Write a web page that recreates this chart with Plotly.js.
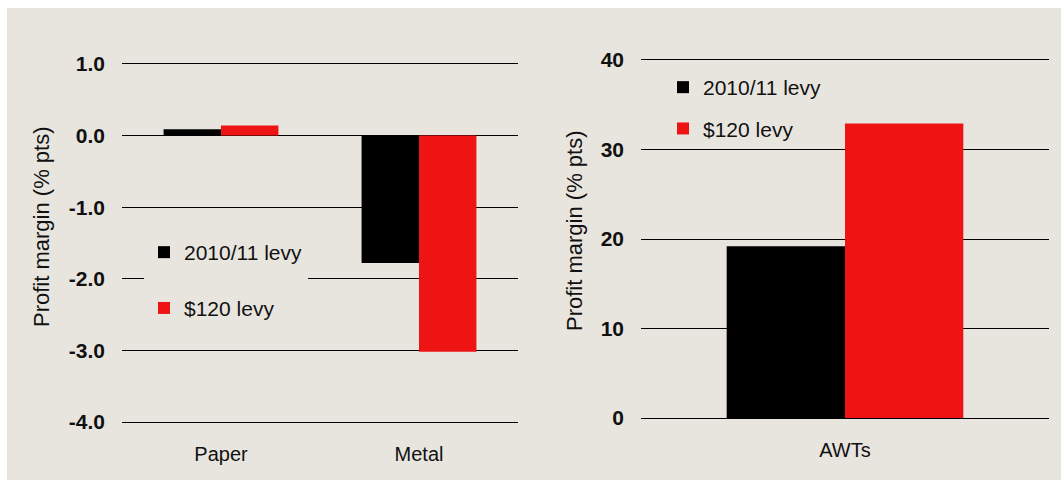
<!DOCTYPE html>
<html>
<head>
<meta charset="utf-8">
<script src="https://cdn.plot.ly/plotly-3.0.1.min.js"></script>
<style>html,body{margin:0;padding:0;background:#fff;}#chart{width:1061px;height:480px;}</style>
</head>
<body>
<div id="chart"></div>
<script>
// Data
const leftCategories = ["Paper", "Metal"];
const leftLevy2010 = [0.09, -1.78];
const leftLevy120 = [0.14, -3.02];
const rightCategories = ["AWTs"];
const rightLevy2010 = [19.2];
const rightLevy120 = [32.9];
const seriesNames = ["2010/11 levy", "$120 levy"];
const leftTicks = [1, 0, -1, -2, -3, -4];
const leftTickText = ["1.0", "0.0", "-1.0", "-2.0", "-3.0", "-4.0"];
const rightTicks = [0, 10, 20, 30, 40];
const yTitle = "Profit margin (% pts)";

const BG = "#E8E5DF";
const BLACK = "#000000";
const RED = "#EE1414";
const FONT = "Liberation Sans, Arial, sans-serif";

const traces = [
  {type: "bar", x: leftCategories, y: leftLevy2010, name: seriesNames[0], xaxis: "x", yaxis: "y",
   marker: {color: BLACK}, legend: "legend", legendgroup: "a"},
  {type: "bar", x: leftCategories, y: leftLevy120, name: seriesNames[1], xaxis: "x", yaxis: "y",
   marker: {color: RED}, legend: "legend", legendgroup: "b"},
  {type: "bar", x: rightCategories, y: rightLevy2010, name: seriesNames[0], xaxis: "x2", yaxis: "y2",
   marker: {color: BLACK}, legend: "legend2", legendgroup: "c"},
  {type: "bar", x: rightCategories, y: rightLevy120, name: seriesNames[1], xaxis: "x2", yaxis: "y2",
   marker: {color: RED}, legend: "legend2", legendgroup: "d"}
];

const yCommon = {
  showgrid: true, gridcolor: "#000000", gridwidth: 1,
  zeroline: false, showline: false, ticks: "",
  ticklabelstandoff: 16,
  tickfont: {family: FONT, size: 21, color: "#111", weight: "bold"}
};
const xCommon = {
  showgrid: false, zeroline: false, showline: false, ticks: "",
  ticklabelstandoff: 14,
  tickfont: {family: FONT, size: 20, color: "#111"}
};

const layout = {
  width: 1061, height: 480,
  margin: {l: 0, r: 0, t: 0, b: 0},
  paper_bgcolor: "#FFFFFF",
  plot_bgcolor: "rgba(0,0,0,0)",
  barmode: "group", bargap: 0.42, bargroupgap: 0,
  font: {family: FONT, color: "#111"},
  xaxis: Object.assign({}, xCommon, {domain: [122/1061, 518/1061], anchor: "y"}),
  yaxis: Object.assign({}, yCommon, {domain: [1 - 425.6/480, 1 - 60.4/480], anchor: "x",
    range: [-4.05, 1.05], tickvals: leftTicks, ticktext: leftTickText}),
  xaxis2: Object.assign({}, xCommon, {domain: [641/1061, 1049/1061], anchor: "y2"}),
  yaxis2: Object.assign({}, yCommon, {domain: [1 - 421.6/480, 1 - 56.4/480], anchor: "x2",
    range: [-0.4, 40.4], tickvals: rightTicks}),
  showlegend: true,
  legend: {x: 144/1061, y: 1 - 232/480, xanchor: "left", yanchor: "top",
    bgcolor: BG, borderwidth: 0, tracegroupgap: 25.5,
    font: {family: FONT, size: 21, color: "#111"}},
  legend2: {x: 663/1061, y: 1 - 67/480, xanchor: "left", yanchor: "top",
    bgcolor: BG, borderwidth: 0, tracegroupgap: 11,
    font: {family: FONT, size: 21, color: "#111"}},
  shapes: [
    {type: "rect", xref: "paper", yref: "paper", x0: 7/1061, x1: 1, y0: 0, y1: 1 - 8/480,
     fillcolor: BG, line: {width: 0}, layer: "below"}
  ],
  annotations: [
    {xref: "paper", yref: "paper", x: 41/1061, y: 1 - 227/480, text: yTitle, textangle: -90,
     showarrow: false, xanchor: "center", yanchor: "middle", font: {family: FONT, size: 22, color: "#111"}},
    {xref: "paper", yref: "paper", x: 575/1061, y: 1 - 231/480, text: yTitle, textangle: -90,
     showarrow: false, xanchor: "center", yanchor: "middle", font: {family: FONT, size: 22, color: "#111"}}
  ]
};

Plotly.newPlot("chart", traces, layout, {displayModeBar: false, staticPlot: true});
</script>
</body>
</html>
